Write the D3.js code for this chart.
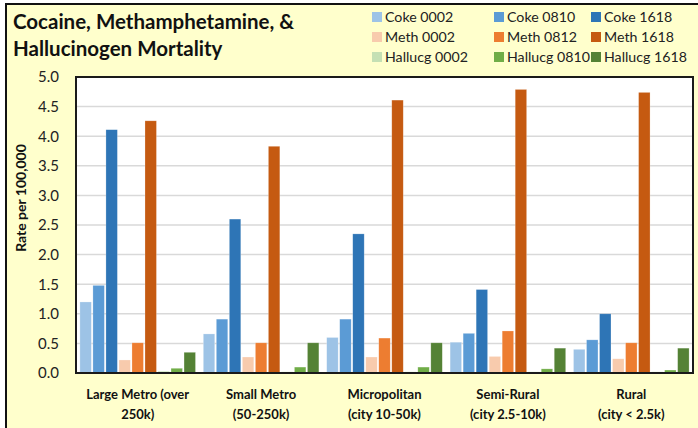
<!DOCTYPE html>
<html>
<head>
<meta charset="utf-8">
<script src="https://cdn.jsdelivr.net/npm/d3@7"></script>
<style>
  body { margin: 0; background: #ffffff; }
  text { font-family: Lato, "Open Sans", sans-serif; }
</style>
</head>
<body>
<svg id="chart"></svg>
<script>
// Data
const regions = [
    ["Large Metro (over", "250k)"],
    ["Small Metro", "(50-250k)"],
    ["Micropolitan", "(city 10-50k)"],
    ["Semi-Rural", "(city 2.5-10k)"],
    ["Rural", "(city < 2.5k)"]
];
const seriesNames = ["Coke 0002", "Coke 0810", "Coke 1618",
                     "Meth 0002", "Meth 0812", "Meth 1618",
                     "Hallucg 0002", "Hallucg 0810", "Hallucg 1618"];
const coke0002 = [1.20, 0.66, 0.60, 0.52, 0.40];
const coke0810 = [1.48, 0.91, 0.91, 0.67, 0.56];
const coke1618 = [4.11, 2.60, 2.35, 1.41, 1.00];
const meth0002 = [0.22, 0.27, 0.27, 0.28, 0.24];
const meth0812 = [0.51, 0.51, 0.59, 0.71, 0.51];
const meth1618 = [4.26, 3.83, 4.61, 4.79, 4.74];
const hall0002 = [0.03, 0.02, 0.02, 0.02, 0.02];
const hall0810 = [0.08, 0.10, 0.10, 0.07, 0.05];
const hall1618 = [0.35, 0.51, 0.51, 0.42, 0.42];
const seriesValues = [coke0002, coke0810, coke1618, meth0002, meth0812, meth1618, hall0002, hall0810, hall1618];
const yTicks = [0, 0.5, 1, 1.5, 2, 2.5, 3, 3.5, 4, 4.5, 5];

const colors = ["#9DC3E6", "#5B9BD5", "#2E75B6",
                "#F8CBAD", "#ED7D31", "#C55A11",
                "#C5E0B4", "#70AD47", "#548235"];

const dimensions = {
    width: 698,
    height: 428,
    plot: { left: 76, right: 693, top: 77, bottom: 373 }
};

const svg = d3.select("#chart")
    .attr("width", dimensions.width)
    .attr("height", dimensions.height);

// Outer chart frame (light yellow)
svg.append("rect")
    .attr("x", 6).attr("y", 4)
    .attr("width", dimensions.width + 10).attr("height", dimensions.height + 10)
    .attr("fill", "#FFFFCC")
    .attr("stroke", "#111")
    .attr("stroke-width", 2);

// Title
svg.append("text")
    .attr("x", 13).attr("y", 29)
    .style("font-size", "20.5px").style("font-weight", "bold").attr("fill", "#111")
    .text("Cocaine, Methamphetamine, &");
svg.append("text")
    .attr("x", 13).attr("y", 56)
    .style("font-size", "20.5px").style("font-weight", "bold").attr("fill", "#111")
    .text("Hallucinogen Mortality");

// Scales
const x0 = d3.scaleBand()
    .domain(d3.range(regions.length))
    .range([dimensions.plot.left, dimensions.plot.right])
    .paddingInner(0).paddingOuter(0);

const x1 = d3.scaleBand()
    .domain(d3.range(seriesNames.length))
    .range([0, x0.bandwidth()])
    .paddingOuter(0.3)
    .paddingInner(0.12);

const yScale = d3.scaleLinear()
    .domain([0, 5])
    .range([dimensions.plot.bottom, dimensions.plot.top]);

// Plot background
svg.append("rect")
    .attr("x", dimensions.plot.left).attr("y", dimensions.plot.top)
    .attr("width", dimensions.plot.right - dimensions.plot.left)
    .attr("height", dimensions.plot.bottom - dimensions.plot.top)
    .attr("fill", "#ffffff");

// Gridlines
svg.append("g")
    .selectAll("line")
    .data(yTicks.slice(1, -1))
    .enter()
    .append("line")
    .attr("x1", dimensions.plot.left).attr("x2", dimensions.plot.right)
    .attr("y1", d => yScale(d)).attr("y2", d => yScale(d))
    .attr("stroke", "#D9D9D9")
    .attr("stroke-width", 1.5);

// Y axis labels
const yAxis = svg.append("g")
    .attr("transform", `translate(${dimensions.plot.left}, 0)`)
    .call(d3.axisLeft(yScale).tickValues(yTicks).tickFormat(d3.format(".1f")).tickSize(0).tickPadding(17));
yAxis.select(".domain").remove();
yAxis.selectAll("text")
    .style("font-size", "15px")
    .style("font-family", "Lato, sans-serif")
    .attr("fill", "#222");

svg.append("text")
    .attr("transform", "translate(26, 198) rotate(-90)")
    .style("text-anchor", "middle")
    .style("font-size", "14px")
    .style("font-weight", "bold")
    .attr("fill", "#111")
    .text("Rate per 100,000");

// Bars
seriesValues.forEach((values, s) => {
    svg.append("g")
        .selectAll("rect")
        .data(values)
        .enter()
        .append("rect")
        .attr("x", (d, i) => x0(i) + x1(s))
        .attr("y", d => yScale(d))
        .attr("width", x1.bandwidth())
        .attr("height", d => yScale(0) - yScale(d))
        .attr("fill", colors[s])
        .attr("stroke", "#ffffff")
        .attr("stroke-opacity", 0.4)
        .attr("stroke-width", 0.6);
});

// Plot border
svg.append("rect")
    .attr("x", dimensions.plot.left).attr("y", dimensions.plot.top)
    .attr("width", dimensions.plot.right - dimensions.plot.left)
    .attr("height", dimensions.plot.bottom - dimensions.plot.top)
    .attr("fill", "none")
    .attr("stroke", "#1a1a1a")
    .attr("stroke-width", 2);

// X labels
regions.forEach((lines, i) => {
    const t = svg.append("text")
        .attr("x", x0(i) + x0.bandwidth() / 2)
        .attr("y", 399)
        .style("text-anchor", "middle")
        .style("font-size", "13px")
        .style("font-weight", "bold")
        .attr("fill", "#111");
    lines.forEach((line, k) => {
        t.append("tspan")
            .attr("x", x0(i) + x0.bandwidth() / 2)
            .attr("dy", k === 0 ? 0 : 20)
            .text(line);
    });
});

// Legend
const legendCols = [372, 494, 591];
const legendRows = [17, 37, 57];
seriesNames.forEach((name, s) => {
    const cx = legendCols[s % 3];
    const cy = legendRows[Math.floor(s / 3)];
    svg.append("rect")
        .attr("x", cx).attr("y", cy - 5)
        .attr("width", 10).attr("height", 10)
        .attr("fill", colors[s]);
    svg.append("text")
        .attr("x", cx + 13).attr("y", cy + 5)
        .style("font-size", "14.2px")
        .attr("fill", "#222")
        .text(name);
});
</script>
</body>
</html>
